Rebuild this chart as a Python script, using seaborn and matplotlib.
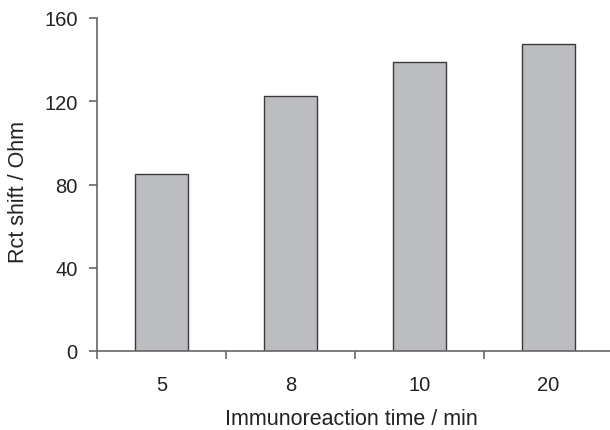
import matplotlib
matplotlib.use("Agg")
import matplotlib.pyplot as plt
import seaborn as sns
import pandas as pd

categories = ["5", "8", "10", "20"]
values = [85.0, 122.6, 139.0, 147.4]
yticks = [0, 40, 80, 120, 160]

sns.set_theme(style="ticks")
plt.rcParams['font.family'] = ['Liberation Sans', 'DejaVu Sans']

df = pd.DataFrame({"time": categories, "shift": values})

W, H = 610, 431
fig = plt.figure(figsize=(W / 100, H / 100), dpi=100)
ax = fig.add_axes([97 / W, (H - 352) / H, 516 / W, 333 / H])

sns.barplot(data=df, x="time", y="shift", order=categories, color="#bcbdc1",
            saturation=1, width=0.41, edgecolor="#3a3a3a", linewidth=1.0, ax=ax)

FS = 14.5
LFS = 15.5
ax.set_xlim(-0.5, 3.5)
ax.set_ylim(0, 160)
ax.set_yticks(yticks)
ax.set_yticklabels([str(v) for v in yticks])
ax.set_xticks([0, 1, 2, 3])
ax.set_xticklabels(categories)
ax.set_xticks([-0.5, 0.5, 1.5, 2.5], minor=True)
ax.tick_params(axis="x", which="major", length=0, pad=17, labelsize=FS, colors="#222222")
ax.tick_params(axis="x", which="minor", length=6, width=1.2, color="#666666", direction="out")
ax.tick_params(axis="y", length=6, width=1.2, color="#666666", labelsize=FS,
               labelcolor="#222222", pad=8, direction="out")

for s in ["top", "right"]:
    ax.spines[s].set_visible(False)
for s in ["left", "bottom"]:
    ax.spines[s].set_color("#666666")
    ax.spines[s].set_linewidth(1.2)

ax.set_xlabel("Immunoreaction time / min", fontsize=LFS, color="#222222")
ax.set_ylabel("Rct shift / Ohm", fontsize=LFS, color="#222222")
ax.xaxis.set_label_coords((351 - 97) / 516, -(409 - 352) / 333)
ax.yaxis.set_label_coords(-(97 - 29) / 516, (352 - 192) / 333)

fig.savefig("out.png", dpi=100)
